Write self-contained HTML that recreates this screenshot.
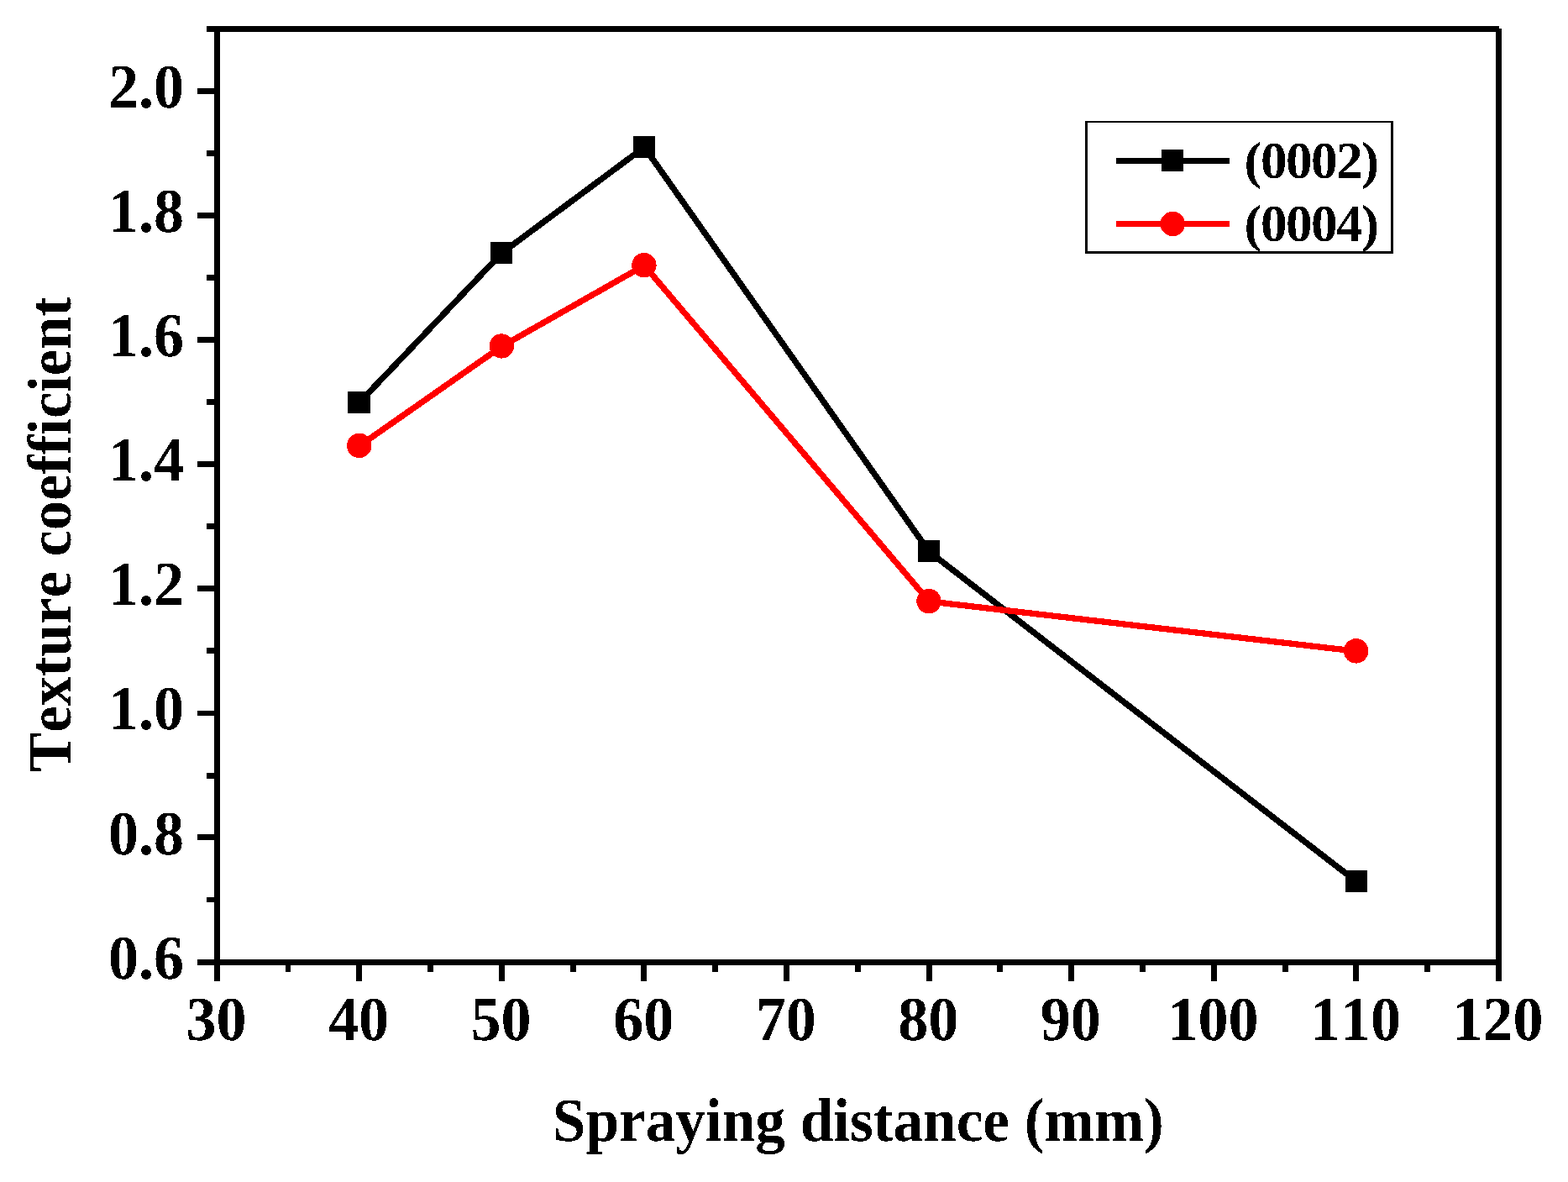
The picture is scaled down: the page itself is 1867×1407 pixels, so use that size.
<!DOCTYPE html>
<html lang="en"><head><meta charset="utf-8"><title>Texture coefficient vs spraying distance</title>
<style>
html,body{margin:0;padding:0;background:#fff;}
body{width:1867px;height:1407px;overflow:hidden;}
svg{display:block;}
text{font-family:"Liberation Serif","DejaVu Serif",serif;font-weight:bold;fill:#000;font-variant-ligatures:none;font-kerning:none;font-feature-settings:"kern" 0,"liga" 0;text-rendering:geometricPrecision;}
.tk{font-size:72px;}
.tt{font-size:72px;}
.lg{font-size:60px;letter-spacing:-1.51px;}
</style></head><body>
<svg width="1867" height="1407" viewBox="0 0 1867 1407">
<rect x="0" y="0" width="1867" height="1407" fill="#fff"/>
<defs><filter id="px" x="0" y="0" width="1867" height="1407" filterUnits="userSpaceOnUse" color-interpolation-filters="sRGB"><feComponentTransfer><feFuncA type="discrete" tableValues="0 1"/></feComponentTransfer></filter></defs>
<g fill="#000" shape-rendering="crispEdges">
<rect x="255" y="31" width="7" height="1137"/>
<rect x="1781" y="34" width="7" height="1134"/>
<rect x="246" y="31" width="1539" height="7"/>
<rect x="235" y="1142" width="1553" height="7"/>
<rect x="235" y="105" width="21" height="7"/>
<rect x="246" y="179" width="10" height="7"/>
<rect x="235" y="253" width="21" height="7"/>
<rect x="246" y="327" width="10" height="7"/>
<rect x="235" y="401" width="21" height="7"/>
<rect x="246" y="475" width="10" height="7"/>
<rect x="235" y="549" width="21" height="7"/>
<rect x="246" y="623" width="10" height="7"/>
<rect x="235" y="697" width="21" height="7"/>
<rect x="246" y="771" width="10" height="7"/>
<rect x="235" y="846" width="21" height="6"/>
<rect x="246" y="920" width="10" height="7"/>
<rect x="235" y="993" width="21" height="7"/>
<rect x="246" y="1068" width="10" height="6"/>
<rect x="340" y="1148" width="6" height="9"/>
<rect x="424" y="1148" width="7" height="20"/>
<rect x="509" y="1148" width="7" height="9"/>
<rect x="594" y="1148" width="7" height="20"/>
<rect x="679" y="1148" width="7" height="9"/>
<rect x="763" y="1148" width="7" height="20"/>
<rect x="848" y="1148" width="7" height="9"/>
<rect x="933" y="1148" width="7" height="20"/>
<rect x="1018" y="1148" width="7" height="9"/>
<rect x="1103" y="1148" width="7" height="20"/>
<rect x="1187" y="1148" width="7" height="9"/>
<rect x="1272" y="1148" width="7" height="20"/>
<rect x="1357" y="1148" width="7" height="9"/>
<rect x="1442" y="1148" width="7" height="20"/>
<rect x="1527" y="1148" width="7" height="9"/>
<rect x="1611" y="1148" width="7" height="20"/>
<rect x="1696" y="1148" width="7" height="9"/>
</g>
<g filter="url(#px)">
<g class="tk" text-anchor="end">
<text transform="translate(219 1164.7) scale(1 1.035)">0.6</text>
<text transform="translate(219 1016.57) scale(1 1.035)">0.8</text>
<text transform="translate(219 868.433) scale(1 1.035)">1.0</text>
<text transform="translate(219 720.3) scale(1 1.035)">1.2</text>
<text transform="translate(219 572.167) scale(1 1.035)">1.4</text>
<text transform="translate(219 424.033) scale(1 1.035)">1.6</text>
<text transform="translate(219 275.9) scale(1 1.035)">1.8</text>
<text transform="translate(219 127.767) scale(1 1.035)">2.0</text>
</g>
<g class="tk" text-anchor="middle">
<text transform="translate(257.5 1237.7) scale(1 1.035)">30</text>
<text transform="translate(427.056 1237.7) scale(1 1.035)">40</text>
<text transform="translate(596.611 1237.7) scale(1 1.035)">50</text>
<text transform="translate(766.167 1237.7) scale(1 1.035)">60</text>
<text transform="translate(935.722 1237.7) scale(1 1.035)">70</text>
<text transform="translate(1105.28 1237.7) scale(1 1.035)">80</text>
<text transform="translate(1274.83 1237.7) scale(1 1.035)">90</text>
<text transform="translate(1444.39 1237.7) scale(1 1.035)">100</text>
<text transform="translate(1613.94 1237.7) scale(1 1.035)">110</text>
<text transform="translate(1783.5 1237.7) scale(1 1.035)">120</text>
</g>
<text class="tt" text-anchor="middle" transform="translate(1021.8 1358) scale(0.989 1.02)">Spraying distance (mm)</text>
<text class="tt" text-anchor="middle" transform="translate(84 636) rotate(-90) scale(0.979 1.02)">Texture coefficient</text>
</g>
<polyline points="428.1,478.9 597.6,301.1 767.2,175.2 1106.3,656.7 1614.9,1049.2" fill="none" stroke="#000" stroke-width="7.3" stroke-linejoin="round" shape-rendering="crispEdges"/>
<g fill="#000" shape-rendering="crispEdges">
<rect x="414" y="466" width="27" height="26"/>
<rect x="584" y="288" width="26" height="26"/>
<rect x="754" y="162" width="26" height="26"/>
<rect x="1093" y="643" width="26" height="26"/>
<rect x="1602" y="1036" width="26" height="26"/>
</g>
<polyline points="428.1,530.7 597.6,412.2 767.2,316.0 1106.3,715.9 1614.9,775.2" fill="none" stroke="#f00" stroke-width="7.3" stroke-linejoin="round" shape-rendering="crispEdges"/>
<g fill="#f00" shape-rendering="crispEdges">
<circle cx="427.8" cy="530.4" r="14.7"/>
<circle cx="597.3" cy="411.9" r="14.7"/>
<circle cx="766.9" cy="315.7" r="14.7"/>
<circle cx="1106.0" cy="715.6" r="14.7"/>
<circle cx="1614.6" cy="774.9" r="14.7"/>
</g>
<g shape-rendering="crispEdges">
<rect x="1292" y="144" width="367" height="2" fill="#000"/>
<rect x="1292" y="299" width="367" height="3" fill="#000"/>
<rect x="1292" y="144" width="3" height="158" fill="#000"/>
<rect x="1656" y="144" width="3" height="158" fill="#000"/>
<rect x="1329" y="188" width="135" height="7" fill="#000"/>
<rect x="1383" y="178" width="26" height="26" fill="#000"/>
<rect x="1329" y="263" width="135" height="7" fill="#f00"/>
</g>
<circle cx="1396.3" cy="266.5" r="14.7" fill="#f00" shape-rendering="crispEdges"/>
<g filter="url(#px)">
<text class="lg" transform="translate(1481.6 211.6) scale(1.053 1.038)">(0002)</text>
<text class="lg" transform="translate(1481.6 286.6) scale(1.053 1.038)">(0004)</text>
</g>
</svg>
</body></html>
